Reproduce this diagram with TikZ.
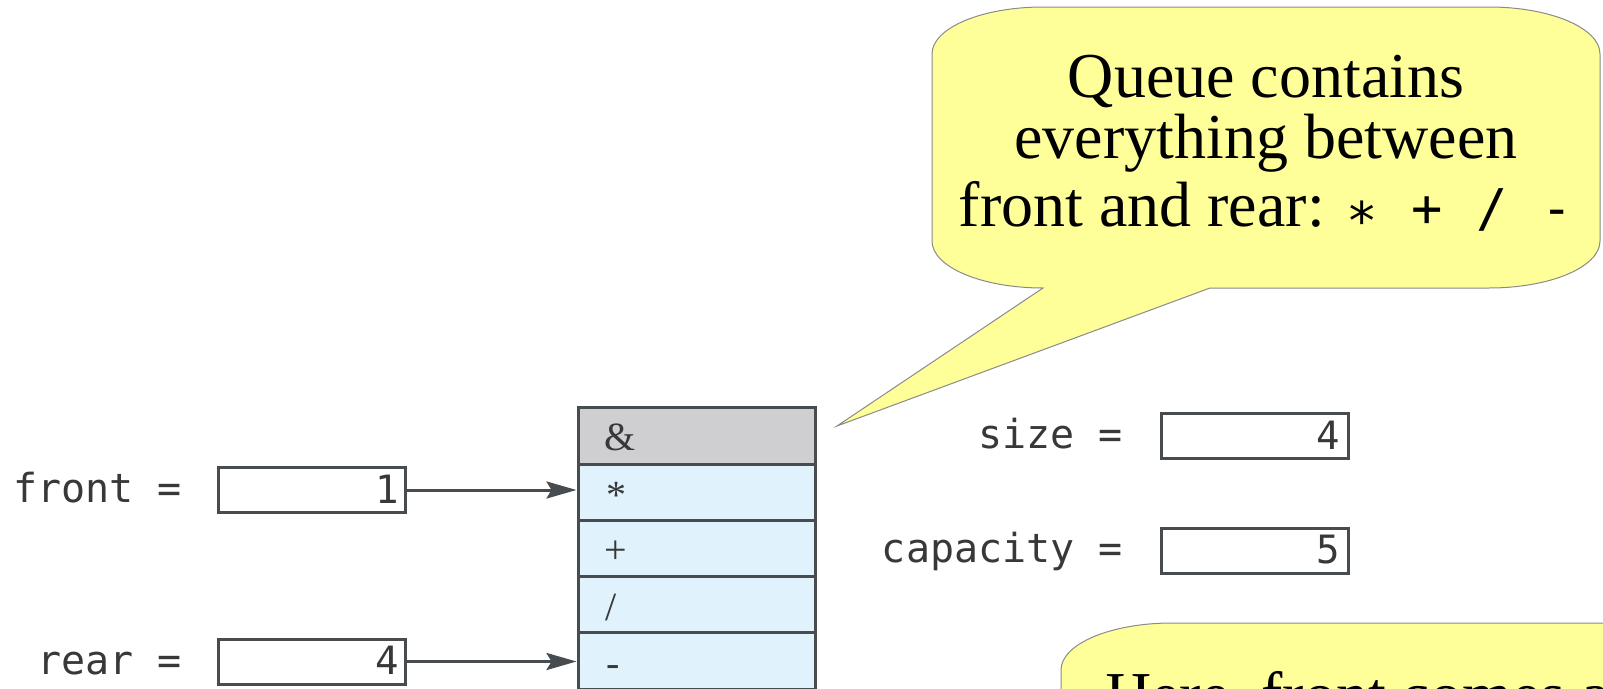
\documentclass[tikz,border=0pt]{standalone}
\usepackage{fontspec}
\setmainfont{Liberation Serif}
\newfontfamily\codefont{DejaVu Sans Mono}
\usetikzlibrary{arrows.meta}

\definecolor{calloutfill}{HTML}{FFFF99}
\definecolor{calloutline}{HTML}{8A8A8A}
\definecolor{cellgray}{HTML}{CFCFD1}
\definecolor{cellblue}{HTML}{E0F3FC}
\definecolor{ink}{HTML}{383838}
\definecolor{rule}{HTML}{464C50}

\begin{document}
\begin{tikzpicture}[x=1pt, y=-1pt,
  varlabel/.style={anchor=base east, inner sep=0pt, text=ink,
    font=\codefont\fontsize{40}{40}\selectfont},
  valbox/.style={draw=rule, line width=3pt, fill=white, inner sep=0pt,
    minimum width=187pt, minimum height=45pt},
  valtext/.style={anchor=base east, inner sep=0pt, text=ink,
    font=\codefont\fontsize{39}{39}\selectfont},
  cell/.style={draw=rule, line width=3pt, fill=cellblue, inner sep=0pt,
    minimum width=237pt, minimum height=56.25pt},
  celltext/.style={anchor=base west, inner sep=0pt, text=ink,
    font=\fontsize{40}{40}\selectfont},
  pointer/.style={draw=rule, line width=3pt,
    -{Stealth[length=30pt, width=17pt, inset=5pt]}},
  callout/.style={fill=calloutfill, draw=calloutline, line width=1pt},
  callouttext/.style={anchor=base, inner sep=0pt,
    font=\fontsize{64}{64}\selectfont},
  calloutleft/.style={anchor=base west, inner sep=0pt,
    font=\fontsize{64}{64}\selectfont},
]
\useasboundingbox (0,0) rectangle (1603,688);
\clip (0,0) rectangle (1603,688);

% ---- queue array (front slot at row 1) ----
\node[cell, fill=cellgray] (row0) at (696.5,436.1) {};
\node[cell] (row1) at (696.5,492.4) {};
\node[cell] (row2) at (696.5,548.6) {};
\node[cell] (row3) at (696.5,604.9) {};
\node[cell] (row4) at (696.5,661.1) {};
\node[celltext] (sym0) at (604,450) {\&};
\node[celltext] (sym1) at (606,508) {*};
\node[celltext] (sym2) at (604,563) {+};
\node[celltext] (sym3) at (605,620) {/};
\node[celltext] (sym4) at (606,676) {-};

% ---- index variables ----
\node[varlabel] (frontlbl) at (182,502) {front =};
\node[valbox] (frontbox) at (312,490) {};
\node[valtext] (frontval) at (399,503) {1};

\node[varlabel] (rearlbl) at (182,674) {rear =};
\node[valbox] (rearbox) at (312,661.5) {};
\node[valtext] (rearval) at (399,674) {4};

\draw[pointer] (frontbox.east) -- (frontbox.east -| row1.west);
\draw[pointer] (rearbox.east) -- (rearbox.east -| row4.west);

% ---- size and capacity ----
\node[varlabel] (sizelbl) at (1123,448) {size =};
\node[valbox] (sizebox) at (1255,435.5) {};
\node[valtext] (sizeval) at (1340,449) {4};

\node[varlabel] (caplbl) at (1123,562) {capacity =};
\node[valbox] (capbox) at (1255,550.5) {};
\node[valtext] (capval) at (1340,563) {5};

% ---- upper callout with its wedge ----
\coordinate (tip) at (837,426);
\path[callout] (1043,288) -- (tip) -- (1210,288) -- (1489,288)
  arc[start angle=90, end angle=0, x radius=111, y radius=47] -- (1600,54)
  arc[start angle=0, end angle=-90, x radius=111, y radius=47] -- (1043,7)
  arc[start angle=-90, end angle=-180, x radius=111, y radius=47] -- (932,241)
  arc[start angle=180, end angle=90, x radius=111, y radius=47] -- cycle;
\node[callouttext] (q1) at (1266,97) {Queue contains};
\node[callouttext] (q2) at (1266,158) {everything between};
\node[callouttext] (q3) at (1266,226)
  {front and rear: {\codefont\fontsize{52}{52}\selectfont
   \raisebox{-13pt}{*}\hspace{34pt}+\hspace{34pt}/\hspace{34pt}-}};

% ---- lower callout ----
\path[callout] (1172,623) -- (1618,623)
  arc[start angle=-90, end angle=0, x radius=111, y radius=47] -- (1729,857)
  arc[start angle=0, end angle=90, x radius=111, y radius=47] -- (1172,904)
  arc[start angle=90, end angle=180, x radius=111, y radius=47] -- (1061,670)
  arc[start angle=180, end angle=270, x radius=111, y radius=47] -- cycle;
\node[calloutleft] (h1) at (1105,716) {Here, front comes a};
\end{tikzpicture}
\end{document}
